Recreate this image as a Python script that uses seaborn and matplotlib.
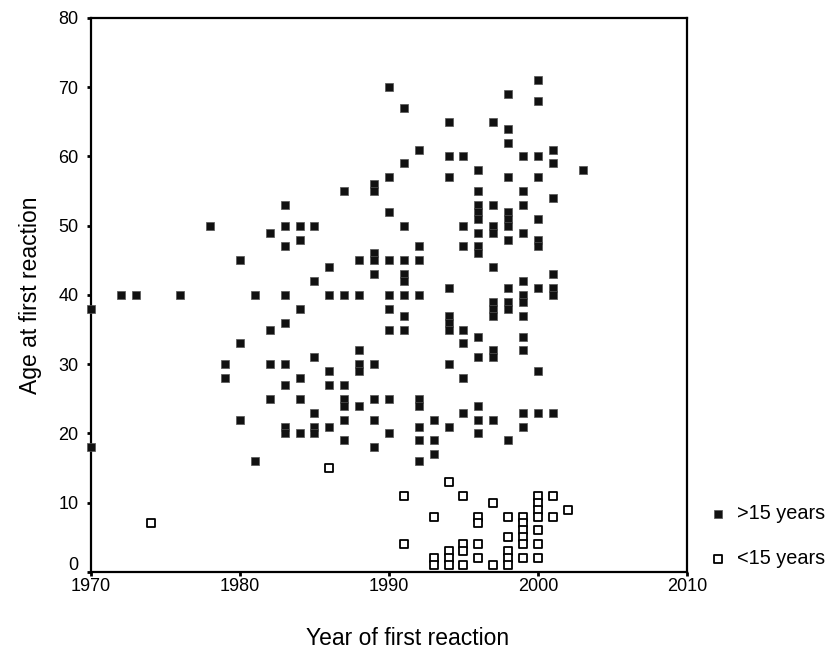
import matplotlib
matplotlib.use("Agg")
import matplotlib.pyplot as plt
import matplotlib.transforms as mtransforms
import seaborn as sns
import pandas as pd


# --- data ---
# patients with first reaction after age 15 (filled squares)
old_years = [
    1970, 1970,
    1972, 1973, 1976, 1978,
    1979, 1979,
    1980, 1980, 1980,
    1981, 1981,
    1982, 1982, 1982, 1982,
    1983, 1983, 1983, 1983, 1983, 1983, 1983, 1983, 1983,
    1984, 1984, 1984, 1984, 1984, 1984,
    1985, 1985, 1985, 1985, 1985, 1985,
    1986, 1986, 1986, 1986, 1986,
    1987, 1987, 1987, 1987, 1987, 1987, 1987,
    1988, 1988, 1988, 1988, 1988, 1988,
    1989, 1989, 1989, 1989, 1989, 1989, 1989, 1989, 1989,
    1990, 1990, 1990, 1990, 1990, 1990, 1990, 1990, 1990,
    1991, 1991, 1991, 1991, 1991, 1991, 1991, 1991, 1991,
    1992, 1992, 1992, 1992, 1992, 1992, 1992, 1992, 1992,
    1993, 1993, 1993,
    1994, 1994, 1994, 1994, 1994, 1994, 1994, 1994, 1994,
    1995, 1995, 1995, 1995, 1995, 1995, 1995,
    1996, 1996, 1996, 1996, 1996, 1996, 1996, 1996, 1996, 1996, 1996, 1996, 1996,
    1997, 1997, 1997, 1997, 1997, 1997, 1997, 1997, 1997, 1997, 1997,
    1998, 1998, 1998, 1998, 1998, 1998, 1998, 1998, 1998, 1998, 1998, 1998,
    1999, 1999, 1999, 1999, 1999, 1999, 1999, 1999, 1999, 1999, 1999, 1999,
    2000, 2000, 2000, 2000, 2000, 2000, 2000, 2000, 2000, 2000,
    2001, 2001, 2001, 2001, 2001, 2001, 2001,
    2003,
]
old_ages = [
    38, 18,
    40, 40, 40, 50,
    30, 28,
    45, 33, 22,
    40, 16,
    49, 35, 30, 25,
    53, 50, 47, 40, 36, 30, 27, 21, 20,
    50, 48, 38, 28, 25, 20,
    50, 42, 31, 23, 21, 20,
    44, 40, 29, 27, 21,
    55, 40, 27, 25, 24, 22, 19,
    45, 40, 32, 30, 29, 24,
    56, 55, 46, 45, 43, 30, 25, 22, 18,
    70, 57, 52, 45, 40, 38, 35, 25, 20,
    67, 59, 50, 45, 43, 42, 40, 37, 35,
    61, 47, 45, 40, 25, 24, 21, 19, 16,
    22, 19, 17,
    65, 60, 57, 41, 37, 36, 35, 30, 21,
    60, 50, 47, 35, 33, 28, 23,
    58, 55, 53, 52, 51, 49, 47, 46, 34, 31, 24, 22, 20,
    65, 53, 50, 49, 44, 39, 38, 37, 32, 31, 22,
    69, 64, 62, 57, 52, 51, 50, 48, 41, 39, 38, 19,
    60, 55, 53, 49, 42, 40, 39, 37, 34, 32, 23, 21,
    71, 68, 60, 57, 51, 48, 47, 41, 29, 23,
    61, 59, 54, 43, 41, 40, 23,
    58,
]

# patients with first reaction before age 15 (open squares)
young_years = [
    1974, 1986,
    1991, 1991,
    1993, 1993, 1993,
    1994, 1994, 1994, 1994,
    1995, 1995, 1995, 1995,
    1996, 1996, 1996, 1996,
    1997, 1997,
    1998, 1998, 1998, 1998, 1998,
    1999, 1999, 1999, 1999, 1999, 1999,
    2000, 2000, 2000, 2000, 2000, 2000, 2000,
    2001, 2001,
    2002,
]
young_ages = [
    7, 15,
    11, 4,
    8, 2, 1,
    13, 3, 2, 1,
    11, 4, 3, 1,
    8, 7, 4, 2,
    10, 1,
    8, 5, 3, 2, 1,
    8, 7, 6, 5, 4, 2,
    11, 10, 9, 8, 6, 4, 2,
    11, 8,
    9,
]

labels = [">15 years", "<15 years"]
x_ticks = [1970, 1980, 1990, 2000, 2010]
y_ticks = [0, 10, 20, 30, 40, 50, 60, 70, 80]


def plot_first_reaction():
    sns.set_style("white")
    plt.rcParams['font.family'] = ['Liberation Sans', 'DejaVu Sans']
    plt.rcParams['text.color'] = 'black'
    plt.rcParams['axes.labelcolor'] = 'black'
    plt.rcParams['xtick.color'] = 'black'
    plt.rcParams['ytick.color'] = 'black'

    old_df = pd.DataFrame({'year': old_years, 'age': old_ages})
    young_df = pd.DataFrame({'year': young_years, 'age': young_ages})

    fig, ax = plt.subplots(figsize=(8.3, 6.64), dpi=100)
    fig.subplots_adjust(left=0.1096, right=0.8277, top=0.973, bottom=0.1386)

    sns.scatterplot(data=old_df, x='year', y='age', ax=ax, marker='s', s=28,
                    color='#111111', edgecolor='#555555', linewidth=0.5,
                    label=labels[0], clip_on=False, zorder=3)
    sns.scatterplot(data=young_df, x='year', y='age', ax=ax, marker='s', s=26,
                    facecolor='white', edgecolor='black', linewidth=1.3,
                    label=labels[1], clip_on=False, zorder=3)

    ax.set_xlim(1970, 2010)
    ax.set_ylim(0, 80)
    ax.set_xticks(x_ticks)
    ax.set_yticks(y_ticks)
    ax.tick_params(direction='out', length=3, width=2, color='black',
                   labelcolor='black', labelsize=13, bottom=True, left=True)
    ax.tick_params(axis='x', pad=1)
    ax.tick_params(axis='y', pad=6)
    for sp in ax.spines.values():
        sp.set_color('black')
        sp.set_linewidth(1.6)

    # the "0" label sits a bit above its tick in the original
    zero_lab = ax.get_yticklabels()[0]
    zero_lab.set_transform(zero_lab.get_transform() +
                           mtransforms.ScaledTranslation(0, 6 / 72, fig.dpi_scale_trans))

    ax.set_xlabel("Year of first reaction", fontsize=16.5, color='black')
    ax.xaxis.set_label_coords(0.532, -0.1)
    ax.set_ylabel("Age at first reaction", fontsize=16.5, labelpad=12, color='black')

    leg = ax.legend(loc='upper left', bbox_to_anchor=(1.005, 0.155), frameon=False,
                    fontsize=14.3, handletextpad=0.45, labelspacing=1.3,
                    markerscale=1.0, handlelength=1.0)
    for t in leg.get_texts():
        t.set_color('black')

    plt.savefig("out.png", dpi=100)
    plt.clf()


def main():
    plot_first_reaction()


if __name__ == "__main__":
    main()
